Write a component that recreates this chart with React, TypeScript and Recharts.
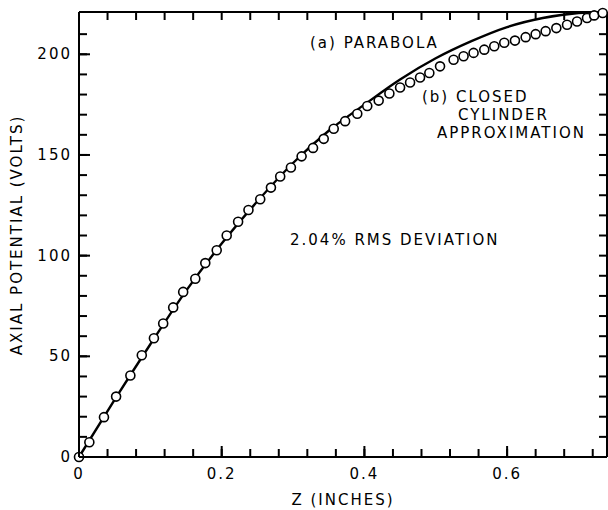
import { ComposedChart, Line, XAxis, YAxis } from "recharts";

// (a) parabola
const parabolaZ = [0, 0.05, 0.1, 0.15, 0.2, 0.25, 0.3, 0.35, 0.4, 0.45, 0.5, 0.55, 0.6, 0.65, 0.7, 0.737];
const parabolaV = [0, 28.5, 56, 82.5, 106, 127, 146, 162, 175, 187.5, 198, 206.5, 213.5, 218, 220.5, 221];

// (b) closed cylinder approximation, the open circles
const cylinderZ = [
  0, 0.0145, 0.035, 0.052, 0.072, 0.088, 0.105, 0.118, 0.132, 0.146, 0.163, 0.177, 0.193, 0.207, 0.223,
  0.2375, 0.254, 0.269, 0.282, 0.297, 0.312, 0.328, 0.343, 0.357, 0.373, 0.39, 0.404, 0.42, 0.435, 0.45,
  0.464, 0.478, 0.491, 0.506, 0.525, 0.539, 0.553, 0.568, 0.582, 0.596, 0.611, 0.626, 0.64, 0.654, 0.669,
  0.684, 0.698, 0.712, 0.722, 0.734,
];
const cylinderV = [
  0, 7.3, 19.8, 30, 40.5, 50.5, 59, 66.3, 74.3, 82, 88.5, 96.3, 102.7, 110, 116.8,
  122.7, 128, 133.8, 139.3, 143.8, 149.3, 153.5, 158, 163, 166.8, 170.5, 174.3, 177, 180.5, 183.5,
  186, 188.5, 190.7, 194, 197.3, 199, 200.7, 202.3, 204, 205.7, 206.8, 208.5, 210, 211.5, 213,
  214.7, 216.3, 218, 219.3, 220.5,
];

const zTicks = [0, 0.04, 0.08, 0.12, 0.16, 0.2, 0.24, 0.28, 0.32, 0.36, 0.4, 0.44, 0.48, 0.52, 0.56, 0.6, 0.64, 0.68, 0.72];
const vTicks = [0, 10, 20, 30, 40, 50, 60, 70, 80, 90, 100, 110, 120, 130, 140, 150, 160, 170, 180, 190, 200, 210];
const zLabelled = [0, 0.2, 0.4, 0.6];
const vLabelled = [0, 50, 100, 150, 200];

const parabola = parabolaZ.map((z, i) => ({ z, v: parabolaV[i] }));
const cylinder = cylinderZ.map((z, i) => ({ z, v: cylinderV[i] }));

const FONT = "'DejaVu Sans', sans-serif";
const INK = "#000";
const TICK = -8; // negative tick size points the marks into the plot
const TICK_W = 2;

const isLabelled = (list: number[], v: number) => list.some(t => Math.abs(t - v) < 1e-6);

// tick props: y is the inner end of the tick mark plus the default 2px margin
function BottomTick({ x, y, payload }: any) {
  const v = payload.value;
  if (!isLabelled(zLabelled, v)) return <g />;
  const base = y - TICK - 2;
  return (
    <g>
      <line x1={x} x2={x} y1={base} y2={base - 11} stroke={INK} strokeWidth={TICK_W} />
      <text x={x} y={base + 22} textAnchor="middle" fontFamily={FONT} fontSize={15} letterSpacing={2} fill={INK}>
        {v === 0 ? "0" : v.toFixed(1)}
      </text>
    </g>
  );
}

function LeftTick({ x, y, payload }: any) {
  const v = payload.value;
  if (!isLabelled(vLabelled, v)) return <g />;
  const base = x + TICK + 2;
  return (
    <g>
      <line x1={base} x2={base + 11} y1={y} y2={y} stroke={INK} strokeWidth={TICK_W} />
      <text x={base - 7} y={y + 5} textAnchor="end" fontFamily={FONT} fontSize={15} letterSpacing={2} fill={INK}>
        {v}
      </text>
    </g>
  );
}

const NoLabel = () => <g />;

function Ring({ cx, cy }: any) {
  if (cx == null || cy == null) return <g />;
  return <circle cx={cx} cy={cy} r={4.5} fill="#fff" stroke={INK} strokeWidth={1.6} />;
}

const textStyle: React.CSSProperties = {
  position: "absolute",
  fontFamily: FONT,
  fontSize: 15,
  letterSpacing: 2,
  color: INK,
  whiteSpace: "nowrap",
  lineHeight: "16px",
};

const axisLine = { stroke: INK, strokeWidth: 2 };
const tickLine = { stroke: INK, strokeWidth: TICK_W };

export default function App() {
  return (
    <div style={{ position: "absolute", left: 0, top: 0, width: 608, height: 510, background: "#fff" }}>
      <ComposedChart width={608} height={510} margin={{ top: 0, right: 0, bottom: 0, left: 0 }}>
        <XAxis
          dataKey="z" type="number" domain={[0, 0.74]} ticks={zTicks} interval={0}
          height={53} tickSize={TICK} tickLine={tickLine}
          axisLine={axisLine} tick={<BottomTick />}
        />
        <XAxis
          xAxisId="top" orientation="top" dataKey="z" type="number" domain={[0, 0.74]} ticks={zTicks} interval={0}
          height={12} tickSize={TICK} tickLine={tickLine} axisLine={axisLine} tick={<NoLabel />}
        />
        <YAxis
          dataKey="v" type="number" domain={[0, 221]} ticks={vTicks} interval={0}
          width={79} tickSize={TICK} tickLine={tickLine}
          axisLine={axisLine} tick={<LeftTick />}
        />
        <YAxis
          yAxisId="right" orientation="right" dataKey="v" type="number" domain={[0, 221]} ticks={vTicks} interval={0}
          width={1} tickSize={TICK} tickLine={tickLine} axisLine={axisLine} tick={<NoLabel />}
        />
        <Line
          data={parabola} dataKey="v" type="monotone" stroke={INK} strokeWidth={2.4}
          dot={false} activeDot={false} isAnimationActive={false}
        />
        <Line
          data={parabola} dataKey="v" xAxisId="top" yAxisId="right" stroke="none"
          dot={false} activeDot={false} isAnimationActive={false}
        />
        {/* open circles drawn as the dots of a line with no stroke */}
        <Line
          data={cylinder} dataKey="v" type="linear" stroke="none"
          dot={<Ring />} activeDot={false} isAnimationActive={false}
        />
      </ComposedChart>

      <div style={{ ...textStyle, left: 310, top: 35 }}>(a) PARABOLA</div>
      <div style={{ ...textStyle, left: 422, top: 89 }}>(b) CLOSED</div>
      <div style={{ ...textStyle, left: 458, top: 107 }}>CYLINDER</div>
      <div style={{ ...textStyle, left: 437, top: 125 }}>APPROXIMATION</div>
      <div style={{ ...textStyle, left: 290, top: 232 }}>2.04% RMS DEVIATION</div>
      <div style={{ ...textStyle, left: 343, top: 492, transform: "translateX(-50%)" }}>Z (INCHES)</div>
      <div
        style={{
          ...textStyle,
          left: 17,
          top: 235,
          transform: "translate(-50%, -50%) rotate(-90deg)",
        }}
      >
        AXIAL POTENTIAL (VOLTS)
      </div>
    </div>
  );
}
